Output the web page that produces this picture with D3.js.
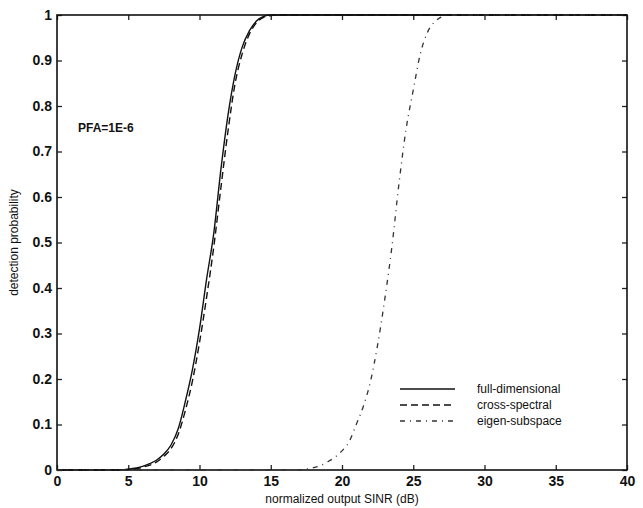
<!DOCTYPE html>
<html>
<head>
<meta charset="utf-8">
<script src="https://cdn.jsdelivr.net/npm/d3@7"></script>
<style>
  body { margin: 0; background: #fff; }
  text { font-family: "Liberation Sans", Arial, sans-serif; fill: #111; }
</style>
</head>
<body>
<div id="chart"></div>
<script>
// values
const xFull  = [0, 4, 5, 6, 6.5, 7, 7.5, 8, 8.5, 9, 9.5, 10, 10.5, 11, 11.5, 12, 12.5, 13, 13.5, 14, 14.5, 15, 40];
const pFull  = [0, 0, 0.002, 0.008, 0.014, 0.022, 0.035, 0.055, 0.09, 0.15, 0.22, 0.31, 0.42, 0.52, 0.66, 0.78, 0.87, 0.93, 0.965, 0.987, 0.997, 1, 1];
const xCross = [0, 4, 5, 6, 7, 7.5, 8, 8.5, 9, 9.5, 10, 10.5, 11, 11.5, 12, 12.5, 13, 13.5, 14, 14.5, 15, 15.5, 40];
const pCross = [0, 0, 0.001, 0.006, 0.018, 0.03, 0.047, 0.078, 0.13, 0.195, 0.28, 0.38, 0.49, 0.62, 0.745, 0.85, 0.915, 0.958, 0.983, 0.995, 0.999, 1, 1];
const xEigen = [0, 17, 17.5, 18, 18.5, 19, 19.5, 20, 20.5, 21, 21.5, 22, 22.5, 23, 23.5, 24, 24.5, 25, 25.5, 26, 26.5, 27, 27.5, 40];
const pEigen = [0, 0, 0.002, 0.005, 0.01, 0.018, 0.028, 0.042, 0.062, 0.1, 0.14, 0.195, 0.275, 0.375, 0.49, 0.63, 0.75, 0.835, 0.915, 0.962, 0.985, 0.996, 1, 1];

const seriesNames = ["full-dimensional", "cross-spectral", "eigen-subspace"];
const xTicks = [0, 5, 10, 15, 20, 25, 30, 35, 40];
const yTicks = [0, 0.1, 0.2, 0.3, 0.4, 0.5, 0.6, 0.7, 0.8, 0.9, 1];

const width = 643, height = 508;
const margin = {top: 15, right: 16, bottom: 38, left: 57};

const svg = d3.select("#chart").append("svg")
    .attr("width", width)
    .attr("height", height);

const x = d3.scaleLinear().domain([0, 40]).range([margin.left, width - margin.right]);
const y = d3.scaleLinear().domain([0, 1]).range([height - margin.bottom, margin.top]);

// ticks pointing inward on all four sides, like matlab
const tickLen = 5;
svg.append("g")
    .attr("transform", "translate(0," + y(0) + ")")
    .call(d3.axisBottom(x).tickValues(xTicks).tickSize(-tickLen).tickPadding(6).tickFormat(d3.format("d")))
    .call(g => g.select(".domain").remove())
    .call(g => g.selectAll("text").style("font-size", "14px").style("font-weight", "bold"));

svg.append("g")
    .attr("transform", "translate(0," + y(1) + ")")
    .call(d3.axisTop(x).tickValues(xTicks).tickSize(-tickLen).tickFormat(""))
    .call(g => g.select(".domain").remove());

svg.append("g")
    .attr("transform", "translate(" + x(0) + ",0)")
    .call(d3.axisLeft(y).tickValues(yTicks).tickSize(-tickLen).tickPadding(5).tickFormat(d => d === 0 || d === 1 ? d : d3.format(".1f")(d)))
    .call(g => g.select(".domain").remove())
    .call(g => g.selectAll("text").style("font-size", "14px").style("font-weight", "bold"));

svg.append("g")
    .attr("transform", "translate(" + x(40) + ",0)")
    .call(d3.axisRight(y).tickValues(yTicks).tickSize(-tickLen).tickFormat(""))
    .call(g => g.select(".domain").remove());

svg.selectAll(".tick line").attr("stroke", "#222").attr("stroke-width", 1.3);

// frame
svg.append("rect")
    .attr("x", x(0)).attr("y", y(1))
    .attr("width", x(40) - x(0)).attr("height", y(0) - y(1))
    .attr("fill", "none")
    .attr("stroke", "#111")
    .attr("stroke-width", 1.6);

const line = d3.line()
    .x(d => x(d[0]))
    .y(d => y(d[1]))
    .curve(d3.curveMonotoneX);

const styles = [
    {dash: null, color: "#111", w: 1.4},
    {dash: "7,4", color: "#111", w: 1.4},
    {dash: "5,5,1,5", color: "#333", w: 1.3}
];

const data = [d3.zip(xFull, pFull), d3.zip(xCross, pCross), d3.zip(xEigen, pEigen)];

data.forEach(function(d, i) {
    svg.append("path")
        .datum(d)
        .attr("d", line)
        .attr("fill", "none")
        .attr("stroke", styles[i].color)
        .attr("stroke-width", styles[i].w)
        .attr("stroke-dasharray", styles[i].dash);
});

// legend
const legend = svg.append("g");
seriesNames.forEach(function(name, i) {
    const ly = 389 + i * 16;
    legend.append("line")
        .attr("x1", 400).attr("x2", 455)
        .attr("y1", ly).attr("y2", ly)
        .attr("stroke", styles[i].color)
        .attr("stroke-width", styles[i].w)
        .attr("stroke-dasharray", styles[i].dash);
    legend.append("text")
        .attr("x", 477).attr("y", ly + 4)
        .style("font-size", "12px")
        .text(name);
});

svg.append("text")
    .attr("x", 78).attr("y", 132)
    .style("font-size", "12px")
    .style("font-weight", "bold")
    .text("PFA=1E-6");

svg.append("text")
    .attr("x", (x(0) + x(40)) / 2).attr("y", 503)
    .attr("text-anchor", "middle")
    .style("font-size", "12px")
    .text("normalized output SINR (dB)");

svg.append("text")
    .attr("transform", "translate(18," + y(0.5) + ") rotate(-90)")
    .attr("text-anchor", "middle")
    .style("font-size", "12px")
    .text("detection probability");
</script>
</body>
</html>
